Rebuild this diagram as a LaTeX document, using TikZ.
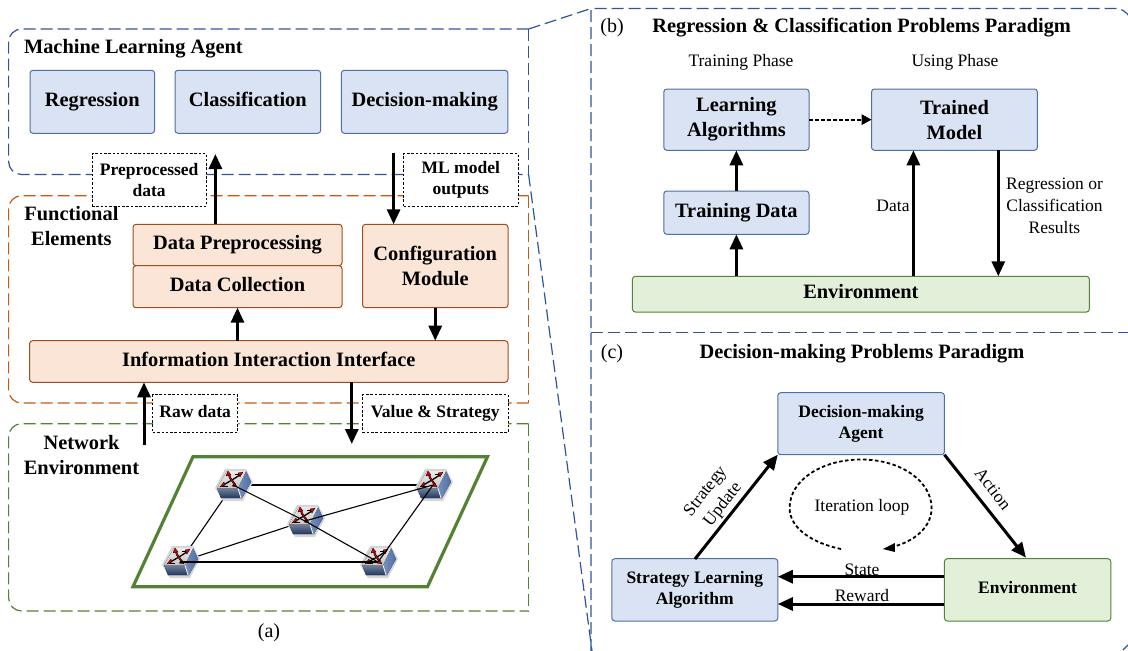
\documentclass[tikz,border=0pt]{standalone}
\usepackage{fontspec}
\setmainfont{Liberation Serif}
\usetikzlibrary{arrows.meta,calc}
\definecolor{bluefill}{HTML}{DAE3F3}
\definecolor{blueline}{HTML}{2F5597}
\definecolor{orangefill}{HTML}{FBE5D6}
\definecolor{orangeline}{HTML}{9C4F1E}
\definecolor{orangedash}{HTML}{C55A11}
\definecolor{greenfill}{HTML}{E2F0D9}
\definecolor{greenline}{HTML}{548235}
\tikzset{
  x=1pt,y=-1pt,
  fbig/.style={font=\fontsize{20.4}{25}\selectfont\bfseries},
  fmid/.style={font=\fontsize{17.5}{21}\selectfont\bfseries},
  freg/.style={font=\fontsize{17.5}{21.6}\selectfont},
  fcap/.style={font=\fontsize{20}{24}\selectfont},
  panel/.style={draw,rounded corners=3pt,line width=1pt,outer sep=0pt,inner sep=0pt,align=center},
  bluebox/.style={panel,draw=blueline!85,fill=bluefill},
  orangebox/.style={panel,draw=orangeline,fill=orangefill},
  greenbox/.style={panel,draw=greenline,fill=greenfill},
  tagbox/.style={draw,dash pattern=on 2.5pt off 1.8pt,line width=.9pt,fill=white,fmid,align=center,inner sep=0pt,outer sep=0pt},
  plain/.style={align=center,inner sep=0pt,outer sep=0pt},
  thickarrow/.style={line width=3pt,-{Triangle[length=15pt,width=13pt]}},
  loopline/.style={line width=1.8pt,dash pattern=on 3.5pt off 2.5pt},
  regiondash/.style={line width=1.2pt,dash pattern=on 12pt off 5pt},
  netlink/.style={line width=1.1pt,black},
}
% box from corner to corner
\newcommand{\cornerbox}[7]{%
  \node[#2,minimum width={#5-#3},minimum height={#6-#4}] (#1) at ({(#3+#5)/2},{(#4+#6)/2}) {#7};}
\newcommand{\xarm}[1]{%
  \draw[black,line width=2pt] #1;
  \draw[red!85!black,line width=.9pt] #1;}
\newcommand{\swicon}[1]{%
  \begin{scope}[shift={(#1)}]
    \fill[black!16] (-8,-16)--(13,-16)--(20,-3)--(10,16)--(-10,16)--(-18,3)--cycle;
    \fill[left color=blueline!65!white,right color=blueline!85!white] (5,3)--(13,-14)--(18,-3)--(9,13)--(8,13)--cycle;
    \fill[top color=blueline!55!black!60!white,bottom color=blueline!65!black] (-16,3)--(5,3)--(8,13)--(-12,13)--cycle;
    \draw[white,line width=.8pt] (5,3)--(8,13);
    \fill[top color=black!8,bottom color=black!22] (-6,-14)--(13,-14)--(5,3)--(-16,3)--cycle;
    \draw[black,line width=1.3pt] (-11,1) .. controls (-5,-3) and (3,-7) .. (8,-11);
    \draw[black,line width=.9pt] (-11,1) -- (-5,1) (8,-11) -- (2,-11);
    \xarm{(-4,-11) .. controls (-4,-6) and (1,-4) .. (2,1)}
    \fill[red!85!black,draw=black,line width=.3pt] (-13,2)--(-8,0)--(-9,-3)--cycle (4,2)--(-1,1)--(2,-2)--cycle
      (-5,-14)--(-7,-9)--(-2,-10)--cycle (10,-13)--(5,-12)--(7,-8)--cycle;
  \end{scope}}
\begin{document}
\begin{tikzpicture}
\useasboundingbox (0,0) rectangle (1128,651);
% --- dashed regions
\draw[regiondash,draw=blueline,rounded corners=13pt] (528.6,29)--(8.6,29)--(8.6,174.5)--(528.6,174.5);
\draw[regiondash,draw=blueline] (528.6,29)--(528.6,174.5);
\draw[regiondash,draw=orangedash,rounded corners=13pt] (528.6,195.7)--(8.6,195.7)--(8.6,403)--(528.6,403);
\draw[regiondash,draw=orangedash] (528.6,195.7)--(528.6,403);
\draw[regiondash,draw=greenline,rounded corners=13pt] (528.6,423.7)--(8.6,423.7)--(8.6,611)--(528.6,611);
\draw[regiondash,draw=greenline] (528.6,423.7)--(528.6,611);
% --- zoom outline
\draw[regiondash,draw=blueline] (528.6,29)--(591,8.5);
\draw[regiondash,draw=blueline] (528.6,174.5)--(592,651);
\draw[regiondash,draw=blueline] (591,651)--(591,8.5)--(1116,8.5) .. controls (1122,8.5) and (1126,12) .. (1130,17);
\draw[regiondash,draw=blueline] (591,332.7)--(1128,332.7);
\draw[line width=1.2pt,draw=blueline] (1123,650)--(1128,645);
% --- (a) agent
\node[plain,fbig,anchor=west] (agenttitle) at (24,49) {Machine Learning Agent};
\cornerbox{reg}{bluebox,fbig}{30}{70.3}{154.6}{133.3}{\vphantom{Ag}Regression}
\cornerbox{cls}{bluebox,fbig}{175}{70.3}{320.7}{133.3}{\vphantom{Ag}Classification}
\cornerbox{dec}{bluebox,fbig}{341.4}{70.3}{507.9}{133.3}{\vphantom{Ag}Decision-making}
% --- (a) functional elements
\node[plain,fbig] (functitle) at (71.4,226.5) {Functional\\Elements};
\cornerbox{prep}{orangebox,fbig}{133}{224.3}{342}{265.7}{\vphantom{Ag}Data Preprocessing}
\cornerbox{coll}{orangebox,fbig}{133}{265.7}{342}{307.7}{\vphantom{Ag}Data Collection}
\cornerbox{conf}{orangebox,fbig}{362.5}{224.3}{508}{307.7}{Configuration\\Module}
\cornerbox{iface}{orangebox,fbig}{29.6}{340.7}{508}{382.3}{\vphantom{Ag}Information Interaction Interface}
% --- tags
\cornerbox{tagpre}{tagbox}{92}{153.7}{206.4}{206}{Preprocessed\\data}
\cornerbox{tagml}{tagbox}{403.6}{153.7}{518}{206}{ML model\\outputs}
\cornerbox{tagraw}{tagbox}{152.9}{394.7}{237.5}{432.3}{\vphantom{Ag}Raw data}
\cornerbox{tagval}{tagbox}{362.5}{394.7}{508}{432.3}{\vphantom{Ag}Value \& Strategy}
% --- (a) connectors
\coordinate (xpre) at (215.4,0);
\coordinate (xml) at (393.6,0);
\coordinate (xraw) at (144,0);
\coordinate (xvalue) at (351.8,0);
\coordinate (endpre) at (215.4,154);
\coordinate (startml) at (393.6,152.7);
\coordinate (startraw) at (144,445);
\coordinate (endval) at (351.8,444);
\draw[thickarrow] (xpre |- prep.north) -- (endpre);
\draw[thickarrow] (startml) -- (xml |- conf.north);
\draw[thickarrow] (coll.south |- iface.north) -- (coll.south);
\draw[thickarrow] (conf.south) -- (conf.south |- iface.north);
\draw[thickarrow] (startraw) -- (xraw |- iface.south);
\draw[thickarrow] (xvalue |- iface.south) -- (endval);
% --- network
\node[plain,fbig] (nettitle) at (81.5,455.5) {Network\\Environment};
\draw[line width=3.2pt,draw=greenline,line join=miter] (193,456.7)--(487.5,456.7)--(427.5,586.7)--(133,586.7)--cycle;
\coordinate (swtl) at (233,485);
\coordinate (swtr) at (433,485);
\coordinate (swc) at (305,521);
\coordinate (swbl) at (180,562);
\coordinate (swbr) at (378,562);
\draw[netlink] (swtl)--(swtr);
\draw[netlink] (swtl)--(swbl);
\draw[netlink] (swbl)--(swc);
\swicon{swtl}\swicon{swtr}\swicon{swc}\swicon{swbl}\swicon{swbr}
\draw[netlink] (swtl)--(swc);
\draw[netlink] (swc)--(swtr);
\draw[netlink] (swc)--(swbr);
\draw[netlink] (swbl)--(swbr);
\draw[netlink] (swbr)--(swtr);
\node[plain,fcap] (capa) at (269,633) {(a)};
% --- (b)
\node[plain,fcap] (capb) at (612,28) {(b)};
\node[plain,fbig] (btitle) at (861.7,28) {Regression \& Classification Problems Paradigm};
\node[plain,freg] (trainphase) at (741,62) {Training Phase};
\node[plain,freg] (usephase) at (955,62) {Using Phase};
\cornerbox{lalg}{bluebox,fbig}{663.8}{89}{809}{150.3}{Learning\\Algorithms}
\cornerbox{tmod}{bluebox,fbig}{871.5}{89}{1037.4}{150.3}{Trained\\Model}
\cornerbox{tdata}{bluebox,fbig}{663.8}{191}{809}{234.3}{\vphantom{Ag}Training Data}
\cornerbox{benv}{greenbox,fbig}{632.4}{276.3}{1089.4}{312}{\vphantom{Ag}Environment}
\coordinate (xdata) at (913.4,0);
\coordinate (xres) at (998.3,0);
\draw[thickarrow] (tdata.north) -- (lalg.south);
\draw[thickarrow] (tdata.south |- benv.north) -- (tdata.south);
\draw[thickarrow] (xdata |- benv.north) -- (xdata |- tmod.south);
\draw[thickarrow] (xres |- tmod.south) -- (xres |- benv.north);
\draw[line width=2pt,dash pattern=on 3.5pt off 2.5pt] (lalg.east) -- ($(tmod.west)+(-9,0)$);
\fill (tmod.west) -- ++(-10,-5.5) -- ++(0,11) -- cycle;
\node[plain,freg] (ldata) at (893,205.7) {Data};
\node[plain,freg] (lres) at (1054.5,205.7) {Regression or\\Classification\\Results};
% --- (c)
\node[plain,fcap] (capc) at (612,354) {(c)};
\node[plain,fbig] (ctitle) at (862,354) {Decision-making Problems Paradigm};
\cornerbox{agent}{bluebox,fmid}{777.8}{392.7}{944.4}{454.7}{Decision-making\\Agent}
\cornerbox{sla}{bluebox,fmid}{611.8}{558.7}{777.8}{621}{Strategy Learning\\Algorithm}
\cornerbox{cenv}{greenbox,fmid}{944.4}{558.7}{1110.8}{621}{\vphantom{Ag}Environment}
\coordinate (ystate) at (0,576.7);
\coordinate (yrew) at (0,604);
\coordinate (startup) at (695,559);
\coordinate (endact) at (1026,557.7);
\draw[thickarrow] (startup) -- (agent.south west);
\draw[thickarrow] (agent.south east) -- (endact);
\draw[thickarrow] (cenv.west |- ystate) -- (sla.east |- ystate);
\draw[thickarrow] (cenv.west |- yrew) -- (sla.east |- yrew);
\node[plain,freg] (lstate) at (862,569.3) {State};
\node[plain,freg] (lreward) at (862,596) {Reward};
\node[plain,freg] (lloop) at (862,507.3) {Iteration loop};
\node[plain,freg,rotate=52] (lstrategy) at (706,491.7) {Strategy};
\node[plain,freg,rotate=52] (lupdate) at (723,505) {Update};
\node[plain,freg,rotate=-52] (laction) at (993,489) {Action};
\coordinate (loopstart) at (841,549);
\coordinate (loopleft) at (789.6,508);
\coordinate (looptop) at (861,459.5);
\coordinate (loopright) at (931.6,508);
\coordinate (looptip) at (882.8,549);
\draw[loopline] (loopstart) .. controls (812,543) and (789.6,528) .. (loopleft)
  .. controls (789.6,480) and (822,459.5) .. (looptop)
  .. controls (902,459.5) and (931.6,482) .. (loopright)
  .. controls (931.6,528) and (913,542) .. (892,547);
\fill (looptip) -- ++(12,-6) -- ++(0,9) -- cycle;
\end{tikzpicture}
\end{document}
